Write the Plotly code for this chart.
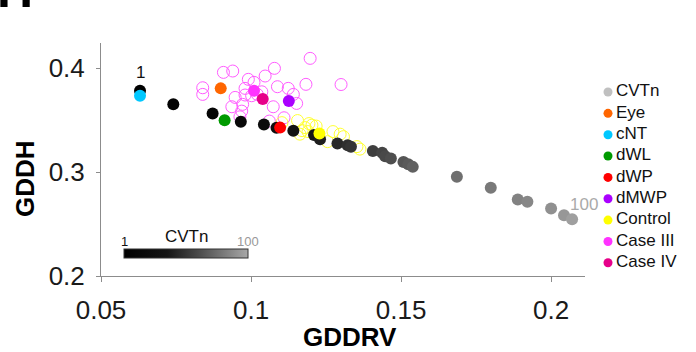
import plotly.graph_objects as go

# ---------------- data ----------------
# CVTn series (n = 1 .. 100), colour-coded by n
cvt_x = [0.0630, 0.0741, 0.0872, 0.0966, 0.1043, 0.1085, 0.1141, 0.1210, 0.1230,
         0.1288, 0.1322, 0.1333, 0.1406, 0.1437, 0.1447, 0.1466, 0.1508, 0.1524,
         0.1539, 0.1686, 0.1799, 0.1889, 0.1921, 0.2000, 0.2043, 0.2070, 0.2122]
cvt_y = [0.3784, 0.3653, 0.3566, 0.3485, 0.3460, 0.3427, 0.3398, 0.3357, 0.3318,
         0.3277, 0.3260, 0.3244, 0.3203, 0.3186, 0.3154, 0.3132, 0.3099, 0.3077,
         0.3051, 0.2955, 0.2849, 0.2737, 0.2714, 0.2650, 0.2585, 0.2547, 0.2502]
cvt_n = [1, 5, 10, 15, 20, 25, 30, 36, 40, 45, 48, 50, 55, 58, 60, 62, 65, 67,
         70, 76, 80, 84, 86, 90, 93, 96, 100]

# Case III individual subjects (open circles)
case3_x = [0.1197, 0.0908, 0.0939, 0.1078, 0.1047, 0.0991, 0.1010, 0.0839, 0.0839,
           0.0980, 0.1088, 0.1124, 0.1183, 0.1036, 0.1002, 0.0980, 0.0947, 0.1141,
           0.1152, 0.0936, 0.0972, 0.0969, 0.0963, 0.1074, 0.1061, 0.1110, 0.1021,
           0.1300]
case3_y = [0.4096, 0.3961, 0.3974, 0.4000, 0.3926, 0.3894, 0.3865, 0.3813, 0.3749,
           0.3807, 0.3823, 0.3807, 0.3846, 0.3774, 0.3736, 0.3743, 0.3720, 0.3749,
           0.3662, 0.3630, 0.3653, 0.3588, 0.3533, 0.3630, 0.3492, 0.3524, 0.3749,
           0.3844]

# Control individual subjects (open circles)
ctrl_x = [0.1155, 0.1170, 0.1163, 0.1180, 0.1193, 0.1203, 0.1217, 0.1190, 0.1273,
          0.1297, 0.1308, 0.1255, 0.1353, 0.1363, 0.1103]
ctrl_y = [0.3497, 0.3400, 0.3366, 0.3429, 0.3468, 0.3453, 0.3444, 0.3391, 0.3391,
          0.3366, 0.3342, 0.3294, 0.3246, 0.3222, 0.3477]

# group means (filled markers)
grp_names = ["Eye", "cNT", "dWL", "dWP", "dMWP", "Control", "Case III", "Case IV"]
grp_x = [0.0899, 0.0630, 0.0912, 0.1097, 0.1126, 0.1228, 0.1010, 0.1039]
grp_y = [0.3807, 0.3736, 0.3501, 0.3429, 0.3685, 0.3373, 0.3784, 0.3704]
grp_colors = ["#ff6600", "#00c8ff", "#009a00", "#ff0000", "#aa00ff", "#ffff00",
              "#ff33ff", "#e6008a"]

# legend
leg_names = ["CVTn"] + grp_names
leg_colors = ["#c0c0c0"] + grp_colors

x_ticks = [0.05, 0.1, 0.15, 0.2]
x_tick_text = ["0.05", "0.1", "0.15", "0.2"]
y_ticks = [0.2, 0.3, 0.4]
y_tick_text = ["0.2", "0.3", "0.4"]

# ---------------- layout helpers ----------------
# positions below are given in screen pixels (page body margin removed)
FONT = "Liberation Sans, Arial, sans-serif"
W, H = 696, 352
S_LEFT, S_TOP, S_BOTTOM, S_RIGHT = 101, 43, 276, 585   # main axes box (screen px)
ML = S_LEFT
MT = S_TOP
MB = H - S_BOTTOM
PW = W - ML
PH = H - MT - MB


def px(xs):
    return (xs - S_LEFT) / PW


def py(ys):
    return (S_BOTTOM - ys) / PH


cscale = [[0, "#000000"], [0.35, "#151515"], [0.6, "#4a4a4a"], [1, "#a8a8a8"]]

fig = go.Figure()

# open circles
fig.add_trace(go.Scatter(x=case3_x, y=case3_y, mode="markers", showlegend=False,
                         cliponaxis=False,
                         marker=dict(symbol="circle-open", size=12, color="#ff5cff",
                                     line=dict(width=1, color="#ff5cff"))))
fig.add_trace(go.Scatter(x=ctrl_x, y=ctrl_y, mode="markers", showlegend=False,
                         cliponaxis=False,
                         marker=dict(symbol="circle-open", size=12, color="#ffff33",
                                     line=dict(width=1, color="#ffff33"))))

# CVTn points with horizontal colourbar
fig.add_trace(go.Scatter(
    x=cvt_x, y=cvt_y, mode="markers", showlegend=False, cliponaxis=False,
    marker=dict(size=12, color=cvt_n, colorscale=cscale, cmin=1, cmax=100,
                line=dict(width=0),
                colorbar=dict(orientation="h", lenmode="pixels", len=124,
                              thicknessmode="pixels", thickness=9,
                              x=px(186.5), xanchor="center", y=py(253.5),
                              yanchor="middle",
                              xpad=0, ypad=0, showticklabels=False, ticks="",
                              outlinewidth=1, outlinecolor="#333333"))))

# group means
for gx, gy, gc in zip(grp_x, grp_y, grp_colors):
    fig.add_trace(go.Scatter(x=[gx], y=[gy], mode="markers", showlegend=False,
                             cliponaxis=False,
                             marker=dict(size=12, color=gc, line=dict(width=0))))

# legend drawn on its own screen-pixel-scaled axis pair at the right
LEG_X0 = 590
leg_y = [92 + 21.35 * i for i in range(len(leg_names))]
fig.add_trace(go.Scatter(x=[608] * len(leg_names), y=leg_y, xaxis="x2", yaxis="y2",
                         mode="markers", showlegend=False, cliponaxis=False,
                         marker=dict(size=9, color=leg_colors, line=dict(width=0))))
fig.add_trace(go.Scatter(x=[616] * len(leg_names), y=leg_y, xaxis="x2", yaxis="y2",
                         mode="text", text=leg_names, textposition="middle right",
                         showlegend=False, cliponaxis=False,
                         textfont=dict(size=17, color="#111111", family=FONT)))


def pann(text, xs, ys, size, color="#111111", angle=0, xa="center", ya="middle"):
    return dict(text=text, x=px(xs), y=py(ys), xref="paper", yref="paper",
                showarrow=False, xanchor=xa, yanchor=ya, textangle=angle,
                font=dict(size=size, color=color, family=FONT))


ann = [
    dict(text="1", x=cvt_x[0], y=cvt_y[0], xref="x", yref="y", showarrow=False,
         yshift=18, xanchor="center", yanchor="middle",
         font=dict(size=17, color="#111111", family=FONT)),
    dict(text="100", x=cvt_x[-1] - 0.0012, y=cvt_y[-1], xref="x", yref="y",
         showarrow=False, yshift=19, xanchor="center", yanchor="middle",
         font=dict(size=17, color="#aaaaaa", family=FONT)),
    pann("1", 124.5, 241, 13),
    pann("100", 247.5, 241, 13, "#999999"),
    pann("CVTn", 186.5, 236, 17),
    pann("<b>GDDRV</b>", 350, 337, 26, "#000000"),
    pann("<b>GDDH</b>", 25, 179, 26, "#000000", angle=-90),
    pann("<b>H</b>", 15, 20, 50, "#000000", ya="bottom"),
]

fig.update_layout(
    template="none",
    width=W, height=H,
    margin=dict(l=ML, r=0, t=MT, b=MB, autoexpand=False),
    paper_bgcolor="white", plot_bgcolor="white",
    font=dict(family=FONT, color="#1a1a1a"),
    showlegend=False,
    hovermode=False,
    annotations=ann,
    xaxis=dict(domain=[0, px(S_RIGHT)], range=[0.05, 0.2113], tickvals=x_ticks,
               ticktext=x_tick_text, showgrid=False, zeroline=False, showline=True,
               linecolor="#8c8c8c", linewidth=1, ticks="outside", ticklen=5,
               tickcolor="#8c8c8c", tickfont=dict(size=26, color="#1a1a1a", family=FONT),
               ticklabelstandoff=6),
    yaxis=dict(range=[0.2, 0.4244], tickvals=y_ticks, ticktext=y_tick_text,
               showgrid=False, zeroline=False, showline=True, linecolor="#8c8c8c",
               linewidth=1, ticks="outside", ticklen=4, tickcolor="#8c8c8c",
               tickfont=dict(size=26, color="#1a1a1a", family=FONT),
               ticklabelstandoff=6),
    xaxis2=dict(domain=[px(LEG_X0), 1], range=[LEG_X0, LEG_X0 + PW * (1 - px(LEG_X0))],
                visible=False, anchor="y2"),
    yaxis2=dict(domain=[0, 1], range=[S_BOTTOM, S_TOP], visible=False, anchor="x2"),
)

fig.write_html("out.html", config={"displayModeBar": False, "staticPlot": True},
               post_script="document.body.style.margin='0px';")
